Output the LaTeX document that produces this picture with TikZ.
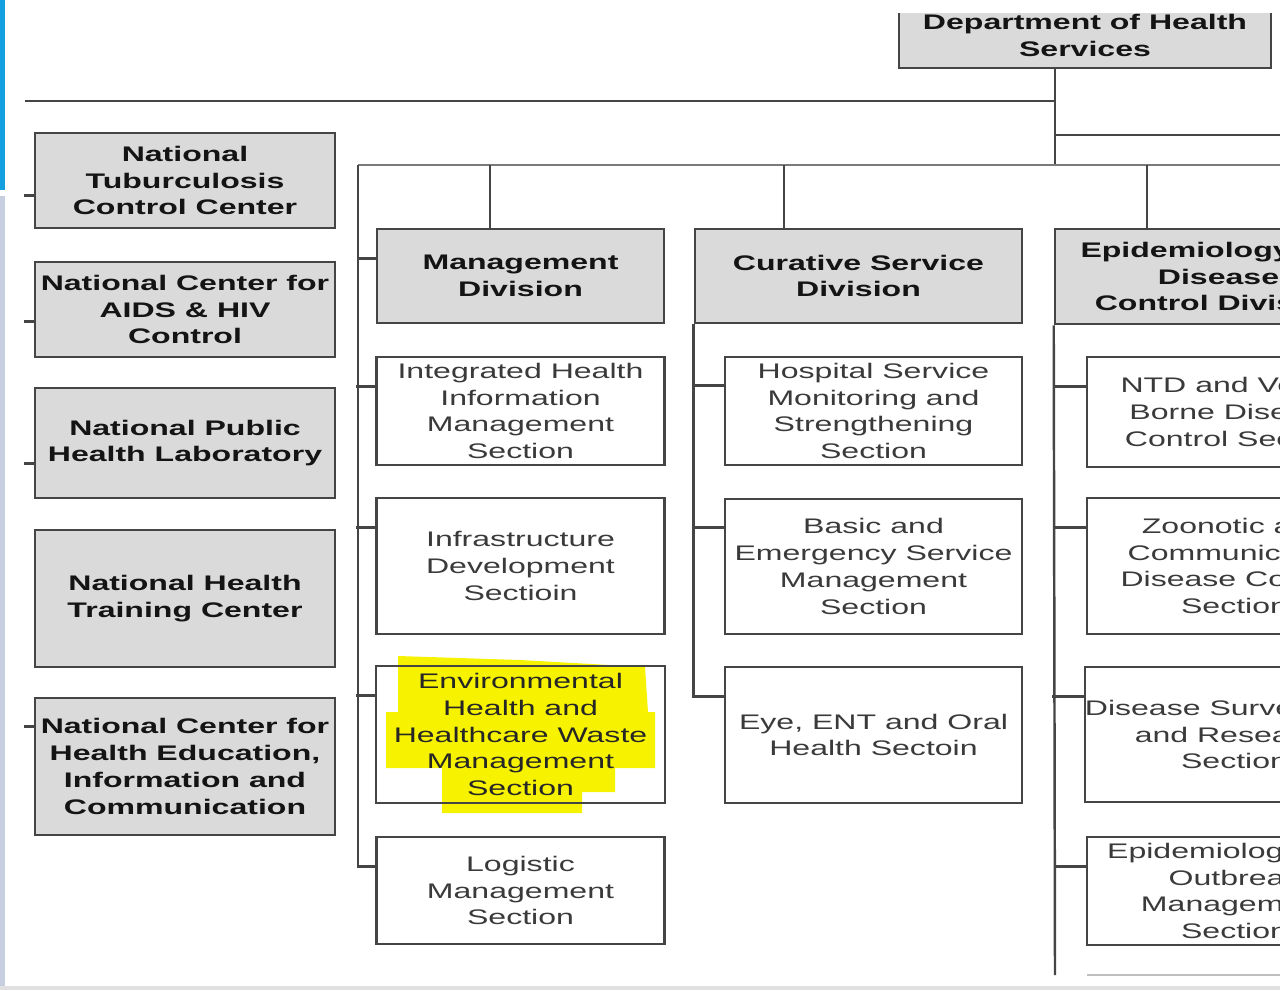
\documentclass[tikz,border=0pt]{standalone}
\usepackage{fontspec}
\newfontfamily\orgfont[FakeStretch=1.52]{Liberation Sans}
\definecolor{boxgrey}{HTML}{DADADA}
\definecolor{lineC}{HTML}{454545}
\definecolor{busC}{HTML}{7A7A7A}
\definecolor{secText}{HTML}{3A3A3A}
\definecolor{hiYellow}{HTML}{F7F300}
\definecolor{winBlue}{HTML}{12A0E0}
\definecolor{winGrey}{HTML}{C6CEDF}
\tikzset{
  unitbox/.style={draw=lineC, line width=1.5pt, fill=boxgrey, inner sep=0pt, align=center,
    text=black!92, font=\orgfont\bfseries\fontsize{12}{15.3}\selectfont},
  secbox/.style={draw=lineC, line width=1.5pt, fill=white, inner sep=0pt, align=center,
    text=secText, font=\orgfont\fontsize{12}{15.3}\selectfont},
  link/.style={draw=lineC, line width=1.4pt},
  bus/.style={draw=busC, line width=1.2pt},
}
\begin{document}
\begin{tikzpicture}[x=0.02cm, y=-0.02cm]
\clip (0,0) rectangle (1280,990);
\fill[white] (0,0) rectangle (1280,990);
% screen edges
\fill[winBlue] (0,0) rectangle (5,190);
\fill[winGrey] (0,196) rectangle (5,990);
\fill[black!12] (0,986) rectangle (1280,990);

% head office
\begin{scope}
\clip (0,14) rectangle (1280,990);
\node[unitbox, minimum width=7.44cm, minimum height=1.3cm] (dept) at (1085,35.5) {Department of Health\\Services};
\end{scope}

% centres
\node[unitbox, minimum width=6cm, minimum height=1.9cm] (ntcc) at (185,180.5) {National\\Tuburculosis\\Control Center};
\node[unitbox, minimum width=6cm, minimum height=1.9cm] (ncasc) at (185,309.5) {National Center for\\AIDS \& HIV\\Control};
\node[unitbox, minimum width=6cm, minimum height=2.2cm] (nphl) at (185,443) {National Public\\Health Laboratory};
\node[unitbox, minimum width=6cm, minimum height=2.74cm] (nhtc) at (185,598.5) {National Health\\Training Center};
\node[unitbox, minimum width=6cm, minimum height=2.74cm] (nchei) at (185,766.5) {National Center for\\Health Education,\\Information and\\Communication};

% management division
\node[unitbox, minimum width=5.74cm, minimum height=1.88cm] (mgmt) at (520.5,276) {Management\\Division};
\node[secbox, minimum width=5.76cm, minimum height=2.16cm] (ihims) at (520.5,411) {Integrated Health\\Information\\Management\\Section};
\node[secbox, minimum width=5.76cm, minimum height=2.72cm] (infra) at (520.5,566) {Infrastructure\\Development\\Sectioin};
\fill[hiYellow] (398,656) -- (520,660) -- (645,667) -- (648,712) -- (655,712) -- (655,768)
  -- (615,768) -- (615,792) -- (582,792) -- (582,813) -- (442,813) -- (442,768)
  -- (386,768) -- (386,712) -- (398,712) -- cycle;
\node[secbox, fill=none, text=black!85, minimum width=5.78cm, minimum height=2.74cm] (envh) at (520.5,734.5) {Environmental\\Health and\\Healthcare Waste\\Management\\Section};
\node[secbox, minimum width=5.76cm, minimum height=2.14cm] (logi) at (520.5,890.5) {Logistic\\Management\\Section};

% curative service division
\node[unitbox, minimum width=6.54cm, minimum height=1.88cm] (cur) at (858.5,276) {Curative Service\\Division};
\node[secbox, minimum width=5.94cm, minimum height=2.16cm] (hosp) at (873.5,411) {Hospital Service\\Monitoring and\\Strengthening\\Section};
\node[secbox, minimum width=5.94cm, minimum height=2.7cm] (basic) at (873.5,566.5) {Basic and\\Emergency Service\\Management\\Section};
\node[secbox, minimum width=5.94cm, minimum height=2.72cm] (eye) at (873.5,735) {Eye, ENT and Oral\\Health Sectoin};

% epidemiology division
\node[unitbox, minimum width=6.54cm, minimum height=1.9cm] (epid) at (1218.5,276.5) {Epidemiology and\\Disease\\Control Division};
\node[secbox, minimum width=5.9cm, minimum height=2.2cm] (ntd) at (1234.5,412) {NTD and Vector\\Borne Disease\\Control Section};
\node[secbox, minimum width=5.9cm, minimum height=2.72cm] (zoo) at (1234.5,566) {Zoonotic and\\Communicable\\Disease Control\\Section};
\node[secbox, minimum width=5.9cm, minimum height=2.7cm] (dsr) at (1234.5,734.5) {Disease Surveillance\\and Research\\Section};
\node[secbox, minimum width=5.9cm, minimum height=2.16cm] (eom) at (1234.5,891) {Epidemiology and\\Outbreak\\Management\\Section};
\draw[black!25, line width=1pt] (1087,975) -- (1280,975);

% connectors
\coordinate (hub) at (1055,165);
\coordinate (topL) at (25,101);
\coordinate (sideR) at (1280,135);
\coordinate (lbus) at (358,165);
\coordinate (busR) at (1280,165);
\coordinate (mtap) at (490,165);
\coordinate (ctap) at (784,165);
\coordinate (etap) at (1147,165);
\coordinate (ebot) at (1055,975);

\draw[link] (hub |- dept.south) -- (hub);
\draw[link] (topL) -- (hub |- topL);
\draw[link] (hub |- sideR) -- (sideR);
\draw[bus] (lbus) -- (busR);
\draw[link] (mtap) -- (mtap |- mgmt.north);
\draw[link] (ctap) -- (ctap |- cur.north);
\draw[link] (etap) -- (etap |- epid.north);

\foreach \n/\d in {ntcc/64, ncasc/61, nphl/77, nchei/30}
  \draw[link] (\n.north west) ++(0,\d) -- ++(-10,0);

\draw[link] (logi.north west) ++(0,31) -| (lbus);
\foreach \n in {mgmt, ihims, infra, envh}
  \draw[link] (\n.north west) ++(0,31) -- ++(-19,0);

\draw[link] (eye.north west) ++(0,31) -| (cur.south west);
\foreach \n in {hosp, basic}
  \draw[link] (\n.north west) ++(0,30) -- ++(-30,0);

\draw[link] (epid.south west) -- (ebot);
\foreach \n in {ntd, zoo, dsr, eom}
  \draw[link] (\n.north west) ++(0,31) -- ++(-32,0);
\end{tikzpicture}
\end{document}
